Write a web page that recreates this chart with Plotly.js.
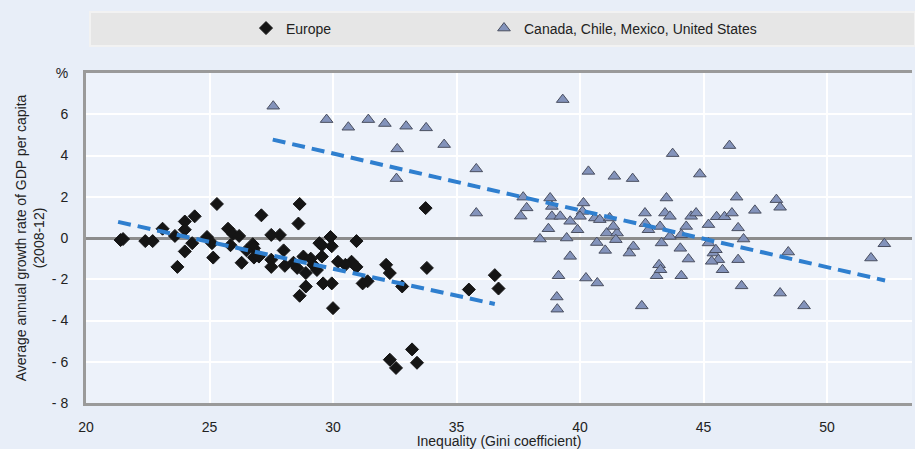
<!DOCTYPE html>
<html>
<head>
<meta charset="utf-8">
<script src="https://cdn.plot.ly/plotly-3.0.1.min.js"></script>
<style>
html,body{margin:0;padding:0;background:#e8eef8;}
#chart{width:915px;height:449px;}
</style>
</head>
<body>
<div id="chart"></div>
<script>
// Europe (Gini, growth %)
const europeX = [21.4,21.5,22.4,22.7,23.1,23.6,23.7,24.0,24.0,24.0,24.3,24.4,24.9,25.1,25.15,25.3,25.75,25.85,25.95,26.2,26.3,26.75,26.8,26.8,27.1,27.5,27.85,27.5,27.5,28.0,28.05,28.4,28.55,28.65,28.6,28.65,28.8,28.9,28.9,29.2,29.35,29.45,29.55,29.55,29.6,29.9,29.95,29.95,30.0,30.2,30.75,30.95,30.95,31.2,31.4,32.15,32.3,32.8,33.8,33.75,35.5,36.55,36.7,32.3,32.55,33.2,33.4,27.0,26.5,29.1,30.5];
const europeY = [-0.1,-0.05,-0.15,-0.15,0.45,0.1,-1.4,0.8,0.4,-0.65,-0.25,1.05,0.05,-0.25,-0.95,1.65,0.45,-0.35,0.2,0.1,-1.2,-0.3,-0.5,-0.95,1.1,0.15,0.15,-1.05,-1.4,-0.6,-1.35,-1.2,-1.45,1.65,0.7,-2.8,-0.9,-1.7,-2.35,-1.3,-1.55,-0.25,-0.9,-0.35,-2.2,0.05,-0.4,-2.2,-3.4,-1.15,-1.15,-0.15,-1.4,-2.2,-2.1,-1.3,-1.7,-2.35,-1.45,1.45,-2.5,-1.8,-2.45,-5.9,-6.3,-5.4,-6.05,-0.9,-0.6,-1.0,-1.3];

// Canada, Chile, Mexico, United States
const americasX = [27.58,29.74,30.62,31.43,32.1,32.96,33.77,32.6,34.5,32.57,35.8,35.8,37.7,37.84,37.6,38.38,39.3,40.34,41.39,42.13,43.75,44.85,46.05,38.79,38.86,38.86,39.2,38.72,39.46,39.6,39.9,40.14,40.1,40.0,40.6,40.8,41.2,41.08,41.5,41.35,40.68,41.02,41.45,42.16,42.0,42.63,42.65,42.77,43.24,43.5,43.44,43.64,43.3,43.64,44.1,44.3,44.5,44.7,45.2,45.53,45.85,46.15,46.34,46.4,46.62,44.06,39.6,39.13,39.06,39.08,40.24,40.7,42.5,43.2,43.1,43.26,44.1,44.39,45.2,45.4,45.6,45.33,45.77,46.4,46.54,47.08,47.95,48.1,45.5,48.43,48.1,49.07,51.78,52.32];
const americasY = [6.39,5.74,5.37,5.74,5.55,5.42,5.34,4.32,4.53,2.88,3.35,1.21,1.98,1.46,1.06,-0.05,6.71,3.23,2.99,2.88,4.09,3.1,4.48,1.94,1.53,1.05,1.05,0.45,0,0.81,0.4,1.7,1.29,1.05,0.97,0.89,0.97,0.24,0.24,0.56,-0.22,-0.6,-0.08,-0.41,-0.73,1.21,0.7,0.4,0.56,1.94,1.21,1.05,-0.24,0.08,0.16,0.56,1.05,1.21,0.65,1.03,1.03,1.21,1.98,0.49,-0.05,-0.5,-0.89,-1.83,-2.86,-3.45,-1.94,-2.18,-3.29,-1.3,-1.83,-1.54,-1.83,-1.02,-0.24,-0.73,-1.05,-1.13,-1.54,-1.05,-2.32,1.34,1.86,1.49,-0.57,-0.68,-2.67,-3.29,-0.97,-0.28];

// Trend lines (endpoints)
const europeTrendX = [21.3, 36.55];
const europeTrendY = [0.78, -3.2];
const americasTrendX = [27.56, 52.35];
const americasTrendY = [4.77, -2.06];

const yTickVals = [-8,-6,-4,-2,0,2,4,6,8];
const yTickText = ['- 8','- 6','- 4','- 2','0','2','4','6','%'];
const xTickVals = [20,25,30,35,40,45,50];
const xTickText = ['20','25','30','35','40','45','50'];

const seriesNames = ['Europe', 'Canada, Chile, Mexico, United States'];
const xTitle = 'Inequality (Gini coefficient)';
const yTitle = 'Average annual growth rate of GDP per capita<br>(2008-12)';

const FONT = 'Liberation Sans, Arial, sans-serif';
const TXT = '#222';
const trendColor = '#2f7fcf';

const traces = [
  {x: europeX, y: europeY, mode:'markers', name: seriesNames[0], type:'scatter', legend:'legend',
   marker:{symbol:'diamond', size:10, color:'#151515', line:{color:'#151515', width:1}}},
  {x: americasX, y: americasY, mode:'markers', name: seriesNames[1], type:'scatter', legend:'legend2',
   marker:{symbol:'triangle-up', size:11, color:'#8393bb', line:{color:'#4a4f60', width:1}}},
  {x: europeTrendX, y: europeTrendY, mode:'lines', showlegend:false, hoverinfo:'skip',
   line:{color:trendColor, width:4, dash:'13px,7px'}},
  {x: americasTrendX, y: americasTrendY, mode:'lines', showlegend:false, hoverinfo:'skip',
   line:{color:trendColor, width:4, dash:'13px,7px'}}
];

const legendBase = {orientation:'h', xanchor:'left', y:1.135, yanchor:'middle',
  bgcolor:'rgba(0,0,0,0)', font:{family:FONT, size:14, color:TXT}};

const layout = {
  width:915, height:449,
  margin:{l:86, r:3, t:73, b:46},
  paper_bgcolor:'#e8eef8',
  plot_bgcolor:'#edf2fa',
  font:{family:FONT, size:13, color:TXT},
  showlegend:true,
  legend:Object.assign({}, legendBase, {x:(246-86)/826}),
  legend2:Object.assign({}, legendBase, {x:(484-86)/826}),
  shapes:[{type:'rect', xref:'paper', yref:'paper', x0:(90-86)/826, x1:(915-86)/826,
    y0:(403.3-46)/330.3, y1:(403.3-12)/330.3, fillcolor:'#e6e6e6',
    line:{color:'#f2f2f2', width:2}, layer:'below'}],
  xaxis:{range:[20,53.44], tickvals:xTickVals, ticktext:xTickText,
    showgrid:true, gridcolor:'#ffffff', gridwidth:2,
    showline:true, linecolor:'#9a9a9a', linewidth:3, mirror:true,
    zeroline:false, ticks:'outside', ticklen:9, tickcolor:'rgba(0,0,0,0)',
    tickfont:{family:FONT, size:14, color:TXT},
    title:{text:xTitle, font:{family:FONT, size:14, color:TXT}, standoff:0}},
  yaxis:{range:[-8,8], tickvals:yTickVals, ticktext:yTickText,
    showgrid:true, gridcolor:'#ffffff', gridwidth:2,
    showline:true, linecolor:'#9a9a9a', linewidth:3,
    zeroline:true, zerolinecolor:'#8c8c8c', zerolinewidth:3,
    ticks:'outside', ticklen:12, tickcolor:'rgba(0,0,0,0)',
    tickfont:{family:FONT, size:14, color:TXT},
    title:{text:yTitle, font:{family:FONT, size:14, color:TXT}, standoff:4}}
};

Plotly.newPlot('chart', traces, layout, {displayModeBar:false, staticPlot:true});
</script>
</body>
</html>
